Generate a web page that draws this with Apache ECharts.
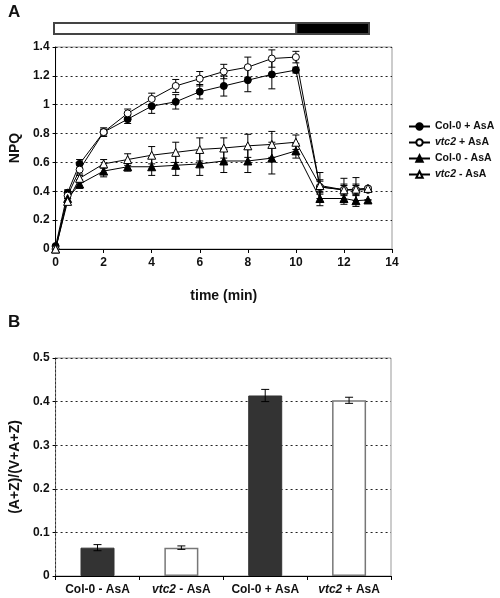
<!DOCTYPE html>
<html><head><meta charset="utf-8">
<script src="https://cdn.jsdelivr.net/npm/echarts@6/dist/echarts.min.js"></script>
<style>html,body{margin:0;padding:0;background:#fff}#c{width:500px;height:598px}</style>
</head><body><div id="c"></div>
<script>
// ---------- Panel A data ----------
const timeMin = [0, 0.5, 1, 2, 3, 4, 5, 6, 7, 8, 9, 10, 11, 12, 12.5, 13];
const col0Plus  = [0.02, 0.39, 0.59, 0.81, 0.90, 0.99, 1.02, 1.09, 1.13, 1.17, 1.21, 1.24, 0.43, 0.41, 0.41, 0.41];
const col0PlusErr = [0, 0.02, 0.03, 0.03, 0.03, 0.05, 0.05, 0.05, 0.07, 0.08, 0.10, 0.02, 0.04, 0.03, 0.03, 0.01];
const vtc2Plus  = [0.00, 0.37, 0.55, 0.81, 0.94, 1.04, 1.13, 1.18, 1.23, 1.26, 1.32, 1.33, 0.43, 0.41, 0.41, 0.42];
const vtc2PlusErr = [0, 0.02, 0.04, 0.02, 0.03, 0.04, 0.045, 0.05, 0.05, 0.07, 0.06, 0.04, 0.05, 0.04, 0.04, 0.01];
const col0Minus = [0.00, 0.35, 0.45, 0.54, 0.57, 0.57, 0.58, 0.59, 0.61, 0.61, 0.63, 0.68, 0.35, 0.35, 0.335, 0.34];
const col0MinusErr = [0, 0.03, 0.03, 0.04, 0.03, 0.06, 0.07, 0.08, 0.08, 0.08, 0.11, 0.05, 0.05, 0.04, 0.04, 0];
const vtc2Minus = [0.00, 0.33, 0.49, 0.59, 0.62, 0.65, 0.67, 0.69, 0.70, 0.715, 0.725, 0.74, 0.44, 0.41, 0.415, 0.42];
const vtc2MinusErr = [0, 0.02, 0.03, 0.03, 0.04, 0.06, 0.07, 0.08, 0.07, 0.08, 0.09, 0.05, 0.09, 0.08, 0.08, 0];
const lightPeriods = [[0, 10, 'light'], [10, 13, 'dark']];

// ---------- Panel B data ----------
const barCats = ['Col-0 - AsA', 'vtc2 - AsA', 'Col-0 + AsA', 'vtc2 + AsA'];
const barVals = [0.065, 0.065, 0.414, 0.403];
const barErr  = [0.007, 0.004, 0.014, 0.007];

const FONT = 'Liberation Sans';
const chart = echarts.init(document.getElementById('c'), null, {renderer: 'canvas'});

function pairs(v) { return timeMin.map((t, i) => [t, v[i]]); }
function errData(v, e) { return timeMin.map((t, i) => [t, v[i] - e[i], v[i] + e[i]]); }

function errRender(capHalf) {
  return function (params, api) {
    const x = api.value(0);
    const lo = api.coord([x, api.value(1)]);
    const hi = api.coord([x, api.value(2)]);
    const st = {stroke: '#000', lineWidth: 1};
    return {type: 'group', children: [
      {type: 'line', shape: {x1: lo[0], y1: lo[1], x2: hi[0], y2: hi[1]}, style: st},
      {type: 'line', shape: {x1: lo[0] - capHalf, y1: lo[1], x2: lo[0] + capHalf, y2: lo[1]}, style: st},
      {type: 'line', shape: {x1: hi[0] - capHalf, y1: hi[1], x2: hi[0] + capHalf, y2: hi[1]}, style: st}
    ]};
  };
}

const lineDefs = [
  {name: 'Col-0 + AsA', v: col0Plus, e: col0PlusErr, symbol: 'circle', size: 7, fill: '#000'},
  {name: 'vtc2 + AsA', v: vtc2Plus, e: vtc2PlusErr, symbol: 'circle', size: 7, fill: '#fff'},
  {name: 'Col-0 - AsA', v: col0Minus, e: col0MinusErr, symbol: 'triangle', size: 8, fill: '#000'},
  {name: 'vtc2 - AsA', v: vtc2Minus, e: vtc2MinusErr, symbol: 'triangle', size: 8, fill: '#fff'}
];

const series = [];
lineDefs.forEach(d => {
  series.push({
    type: 'custom', xAxisIndex: 0, yAxisIndex: 0, renderItem: errRender(3.5),
    data: errData(d.v, d.e), silent: true, z: 2, encode: {x: 0, y: [1, 2]}
  });
});
lineDefs.forEach(d => {
  series.push({
    name: d.name, type: 'line', xAxisIndex: 0, yAxisIndex: 0, data: pairs(d.v),
    symbol: d.symbol, symbolSize: d.size, z: 3,
    lineStyle: {color: '#000', width: 1},
    itemStyle: {color: d.fill, borderColor: '#000', borderWidth: 1},
    emphasis: {disabled: true}
  });
});

// light/dark period bar
series.push({
  type: 'custom', xAxisIndex: 1, yAxisIndex: 1, silent: true,
  data: lightPeriods,
  renderItem: function (params, api) {
    const a = api.coord([api.value(0), 1]);
    const b = api.coord([api.value(1), 0]);
    const dark = params.dataIndex === 1;
    return {type: 'rect', shape: {x: a[0], y: a[1], width: b[0] - a[0], height: b[1] - a[1]},
      style: {fill: dark ? '#000' : '#fff', stroke: '#444', lineWidth: 2}};
  },
  encode: {x: [0, 1]}
});

// Panel B bars
series.push({
  type: 'bar', xAxisIndex: 2, yAxisIndex: 2, barWidth: 34,
  data: barVals.map((v, i) => ({value: v, itemStyle: i % 2 === 0
    ? {color: '#333', borderColor: '#333', borderWidth: 1}
    : {color: '#fff', borderColor: '#777', borderWidth: 1.5}})),
  emphasis: {disabled: true}, z: 2
});
series.push({
  type: 'custom', xAxisIndex: 2, yAxisIndex: 2, silent: true, z: 3,
  data: barCats.map((c, i) => [i, barVals[i] - barErr[i], barVals[i] + barErr[i]]),
  renderItem: errRender(4), encode: {x: 0, y: [1, 2]}
});

const tickLbl = {fontFamily: FONT, fontWeight: 'bold', fontSize: 12, color: '#111'};
const gridLine = {show: true, lineStyle: {color: '#222', type: [2, 3], width: 1}};

function richName(name) {
  if (name.indexOf('vtc2') === 0) return '{i|vtc2}{n|' + name.slice(4) + '}';
  return '{n|' + name + '}';
}

chart.setOption({
  animation: false,
  backgroundColor: '#fff',
  textStyle: {fontFamily: FONT},
  grid: [
    {left: 54, right: 108, top: 47, bottom: 349, show: true, borderColor: '#999', borderWidth: 1, backgroundColor: 'transparent'},
    {left: 54, right: 131, top: 23, height: 11},
    {left: 54, right: 109, top: 358, bottom: 22, show: true, borderColor: '#999', borderWidth: 1, backgroundColor: 'transparent'}
  ],
  xAxis: [
    {type: 'value', gridIndex: 0, min: 0, max: 14, interval: 2,
      name: 'time (min)', nameLocation: 'middle', nameGap: 40,
      nameTextStyle: {fontFamily: FONT, fontWeight: 'bold', fontSize: 14, color: '#111'},
      axisLine: {show: true, lineStyle: {color: '#000', width: 1}},
      axisTick: {show: true, length: 4, lineStyle: {color: '#000'}},
      axisLabel: Object.assign({margin: 8}, tickLbl), splitLine: {show: false}},
    {type: 'value', gridIndex: 1, min: 0, max: 13, show: false},
    {type: 'category', gridIndex: 2, data: barCats,
      axisLine: {show: true, lineStyle: {color: '#000', width: 1}},
      axisTick: {show: true, length: 4, lineStyle: {color: '#000'}},
      axisLabel: {margin: 8, interval: 0, formatter: richName,
        rich: {i: Object.assign({fontStyle: 'italic'}, tickLbl), n: tickLbl}}}
  ],
  yAxis: [
    {type: 'value', gridIndex: 0, min: 0, max: 1.4, interval: 0.2,
      name: 'NPQ', nameLocation: 'middle', nameGap: 24, nameRotate: 90,
      nameTextStyle: {fontFamily: FONT, fontWeight: 'bold', fontSize: 14, color: '#111'},
      axisLine: {show: true, lineStyle: {color: '#000', width: 1}},
      axisTick: {show: true, length: 3, lineStyle: {color: '#000'}},
      axisLabel: Object.assign({margin: 6}, tickLbl), splitLine: gridLine},
    {type: 'value', gridIndex: 1, min: 0, max: 1, show: false},
    {type: 'value', gridIndex: 2, min: 0, max: 0.5, interval: 0.1,
      name: '(A+Z)/(V+A+Z)', nameLocation: 'middle', nameGap: 31, nameRotate: 90,
      nameTextStyle: {fontFamily: FONT, fontWeight: 'bold', fontSize: 14, color: '#111'},
      axisLine: {show: true, lineStyle: {color: '#333', width: 1, type: [2, 2]}},
      axisTick: {show: true, length: 3, lineStyle: {color: '#000'}},
      axisLabel: Object.assign({margin: 6}, tickLbl), splitLine: gridLine}
  ],
  legend: {
    orient: 'vertical', left: 408, top: 121, itemWidth: 21, itemHeight: 8, itemGap: 5,
    padding: 0,
    data: lineDefs.map(d => d.name),
    formatter: richName,
    textStyle: {rich: {
      i: {fontFamily: FONT, fontStyle: 'italic', fontWeight: 'bold', fontSize: 10.5, color: '#111'},
      n: {fontFamily: FONT, fontWeight: 'bold', fontSize: 10.5, color: '#111'}}}
  },
  graphic: [
    {type: 'text', left: 8, top: 4, style: {text: 'A', font: 'bold 17px "Liberation Sans"', fill: '#111'}},
    {type: 'text', left: 8, top: 314, style: {text: 'B', font: 'bold 17px "Liberation Sans"', fill: '#111'}}
  ],
  series: series
});
</script>
</body></html>
